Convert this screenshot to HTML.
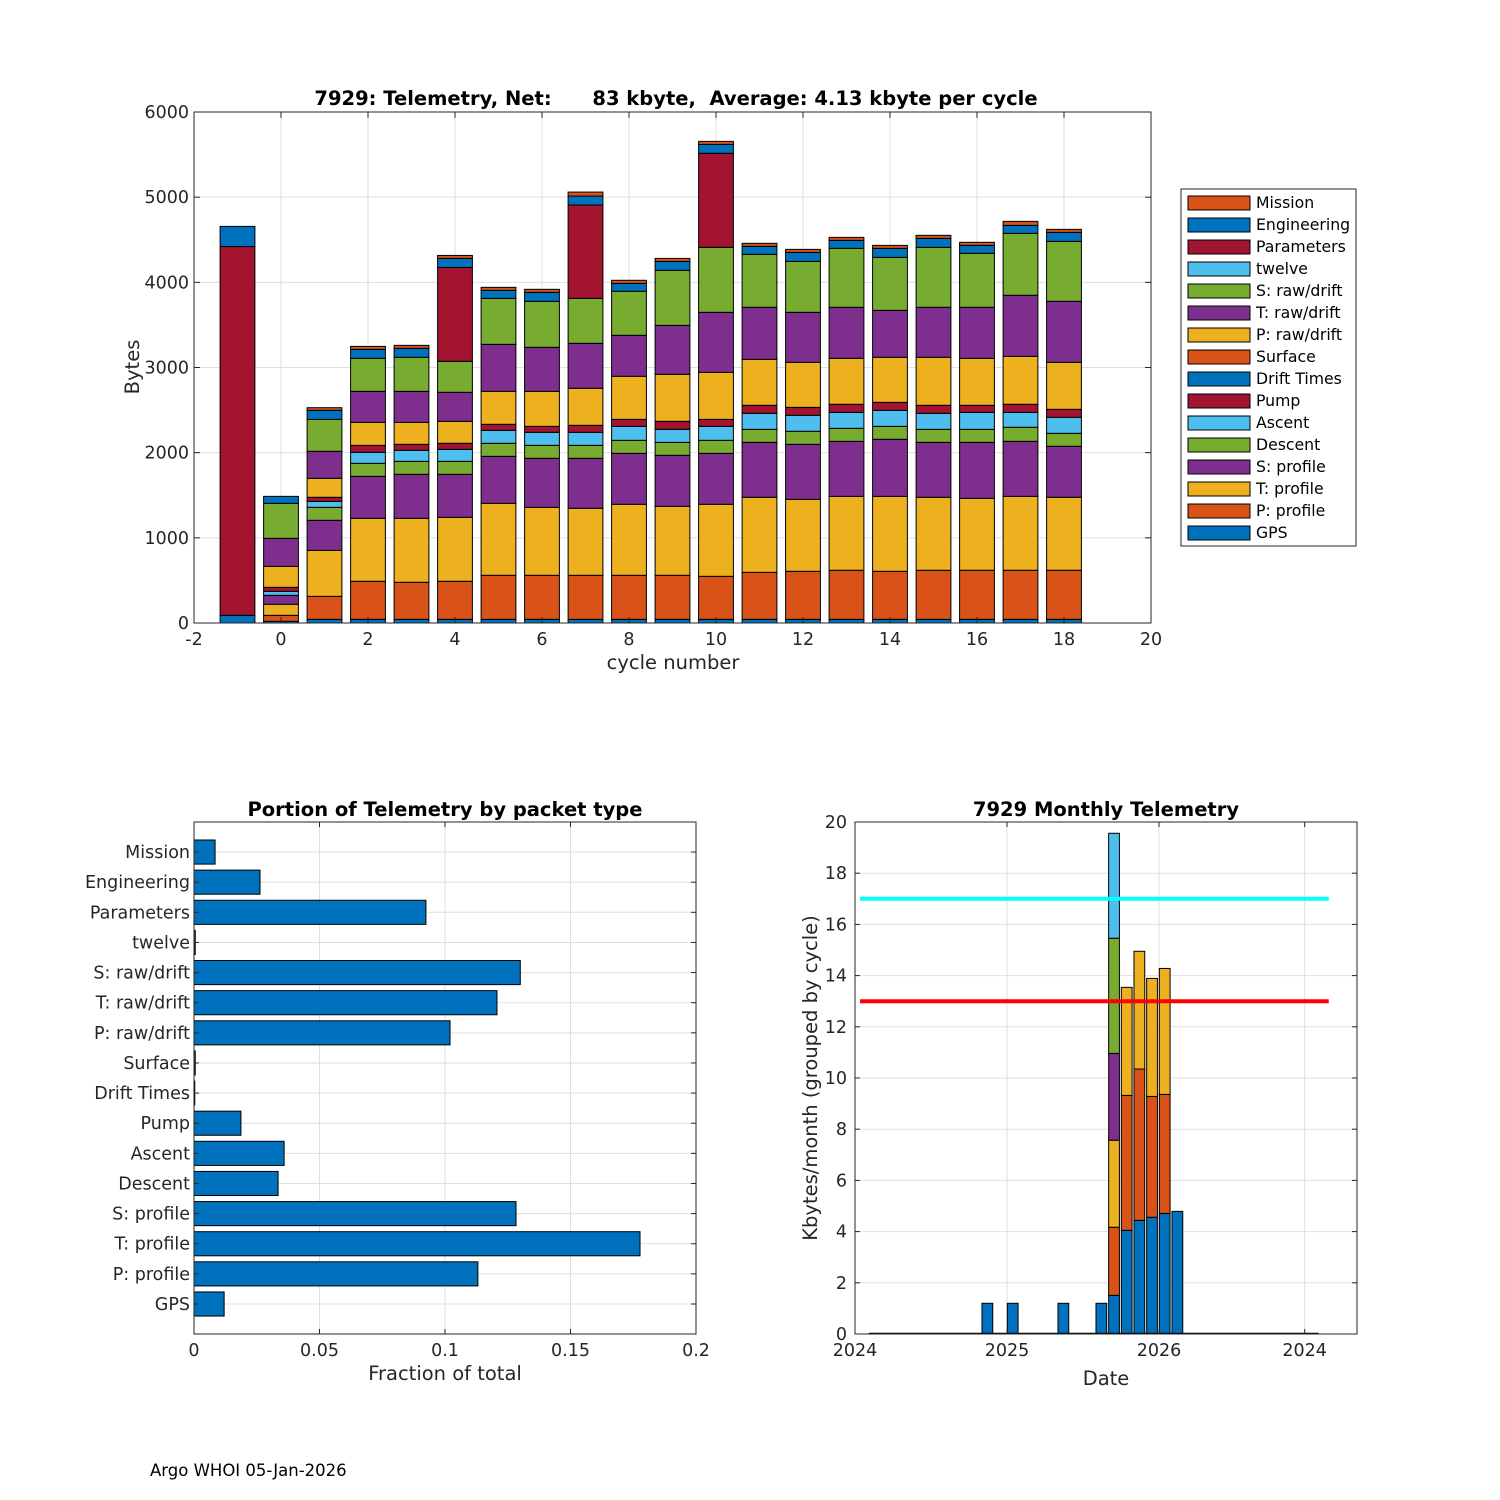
<!DOCTYPE html>
<html><head><meta charset="utf-8">
<style>
html,body{margin:0;padding:0;background:#fff;}
svg{display:block;font-family:"DejaVu Sans","Liberation Sans",sans-serif;}
</style></head>
<body>
<svg id="fig" width="1500" height="1500" viewBox="0 0 1500 1500" xmlns="http://www.w3.org/2000/svg">
<rect x="0" y="0" width="1500" height="1500" fill="#fff"/>
<text x="150" y="1476" font-size="16.5" fill="#000">Argo WHOI 05-Jan-2026</text>
</svg>
<script>
// ---------- Top chart data ----------
var cycles = [-1,0,1,2,3,4,5,6,7,8,9,10,11,12,13,14,15,16,17,18];
var seriesNames = ["GPS","P: profile","T: profile","S: profile","Descent","Ascent","Pump","Drift Times","Surface","P: raw/drift","T: raw/drift","S: raw/drift","twelve","Parameters","Engineering","Mission"];
var gps    = [90,20,43,43,43,43,43,43,43,43,43,43,43,43,43,43,43,43,43,43];
var pProf  = [0,70,270,447,435,447,517,517,517,517,517,505,552,564,576,564,576,576,576,576];
var tProf  = [0,130,540,739,751,751,845,798,787,834,810,846,881,845,868,880,857,845,868,857];
var sProf  = [0,105,353,493,517,505,552,576,587,598,599,598,645,646,646,670,645,657,646,599];
var descent= [0,0,152,153,152,152,153,152,152,153,152,153,153,153,153,152,153,153,165,152];
var ascent = [0,47,70,129,130,141,152,153,153,164,153,164,188,188,187,188,188,199,175,188];
var pump   = [0,47,48,82,70,71,71,70,82,82,94,82,94,93,95,94,94,83,95,94];
var drift  = [0,0,0,0,0,0,0,0,0,0,0,0,0,0,0,0,0,0,0,0];
var surface= [0,0,0,0,0,0,0,0,0,0,0,0,0,0,0,0,0,0,0,0];
var pRaw   = [0,246,223,270,258,258,387,411,435,506,552,552,540,529,540,529,564,552,563,552];
var tRaw   = [0,329,317,364,364,341,552,517,528,481,575,705,611,587,599,551,587,599,717,716];
var sRaw   = [0,411,375,388,400,364,540,540,528,517,646,763,622,598,692,622,704,634,727,704];
var twelve = [0,0,0,0,0,0,0,0,0,0,0,0,0,0,0,0,0,0,0,0];
var params = [4330,0,0,0,0,1102,0,0,1096,0,0,1104,0,0,0,0,0,0,0,0];
var eng    = [237,82,106,105,105,106,94,106,105,93,105,105,94,106,94,106,105,93,94,106];
var mission= [0,0,31,35,35,35,35,35,47,36,35,35,35,35,35,35,36,36,47,35];
var topXTicks = [-2,0,2,4,6,8,10,12,14,16,18,20];
var topYTicks = [0,1000,2000,3000,4000,5000,6000];

// ---------- Bottom-left data ----------
var packetTypes = ["GPS","P: profile","T: profile","S: profile","Descent","Ascent","Pump","Drift Times","Surface","P: raw/drift","T: raw/drift","S: raw/drift","twelve","Parameters","Engineering","Mission"];
var fractions = [0.0120,0.1131,0.1777,0.1283,0.0335,0.0359,0.0187,0.0003,0.0005,0.1020,0.1207,0.1300,0.0005,0.0924,0.0263,0.0084];
var fracTicks = [0,0.05,0.1,0.15,0.2];
var fracTickLabels = ["0","0.05","0.1","0.15","0.2"];

// ---------- Bottom-right data (month index from Jan 2024) ----------
var months = [0,1,2,3,4,5,6,7,8,9,10,11,12,13,14,15,16,17,18,19,20,21,22,23,24,25,26,27,28,29,30,31,32,33,34,35];
var mSeg1 = [0,0,0,0,0,0,0,0,0,0,1.2,0,1.2,0,0,0,1.2,0,0,1.2,1.51,4.05,4.44,4.56,4.71,4.79,0,0,0,0,0,0,0,0,0,0];
var mSeg2 = [0,0,0,0,0,0,0,0,0,0,0,0,0,0,0,0,0,0,0,0,2.66,5.27,5.91,4.72,4.65,0,0,0,0,0,0,0,0,0,0,0];
var mSeg3 = [0,0,0,0,0,0,0,0,0,0,0,0,0,0,0,0,0,0,0,0,3.40,4.22,4.60,4.61,4.92,0,0,0,0,0,0,0,0,0,0,0];
var mSeg4 = [0,0,0,0,0,0,0,0,0,0,0,0,0,0,0,0,0,0,0,0,3.39,0,0,0,0,0,0,0,0,0,0,0,0,0,0,0];
var mSeg5 = [0,0,0,0,0,0,0,0,0,0,0,0,0,0,0,0,0,0,0,0,4.50,0,0,0,0,0,0,0,0,0,0,0,0,0,0,0];
var mSeg6 = [0,0,0,0,0,0,0,0,0,0,0,0,0,0,0,0,0,0,0,0,4.10,0,0,0,0,0,0,0,0,0,0,0,0,0,0,0];
var monthXTicks = [0,12,24,35.5];
var monthXTickLabels = ["2024","2025","2026","2024"];
var monthYTicks = [0,2,4,6,8,10,12,14,16,18,20];
var redLevel = 13;
var cyanLevel = 17;

var NS = "http://www.w3.org/2000/svg";
var svg = document.getElementById("fig");
function mk(tag, attrs, parent){
  var e = document.createElementNS(NS, tag);
  for (var k in attrs) e.setAttribute(k, attrs[k]);
  (parent||svg).appendChild(e);
  return e;
}
function txt(str, attrs, parent){
  var e = mk("text", attrs, parent);
  e.textContent = str;
  return e;
}
var FS = 17.5;
var C = {blue:"#0072BD",orange:"#D95319",yellow:"#EDB120",purple:"#7E2F8E",green:"#77AC30",cyan:"#4DBEEE",red:"#A2142F"};
var seriesColors = [C.blue,C.orange,C.yellow,C.purple,C.green,C.cyan,C.red,C.blue,C.orange,C.yellow,C.purple,C.green,C.cyan,C.red,C.blue,C.orange];
var seriesData = [gps,pProf,tProf,sProf,descent,ascent,pump,drift,surface,pRaw,tRaw,sRaw,twelve,params,eng,mission];

// ================= TOP CHART =================
var T = {l:194,r:1151,t:112,b:623,x0:-2,x1:20,y0:0,y1:6000};
function tx(v){return T.l + (v-T.x0)/(T.x1-T.x0)*(T.r-T.l);}
function ty(v){return T.b - (v-T.y0)/(T.y1-T.y0)*(T.b-T.t);}
var gTop = mk("g",{});


topXTicks.forEach(function(v){
  var l = mk("line",{x1:tx(v),x2:tx(v),y1:T.t,y2:T.b,stroke:"#dfdfdf","stroke-width":1},gTop);
  
  
});
topYTicks.forEach(function(v){
  var l = mk("line",{x1:T.l,x2:T.r,y1:ty(v),y2:ty(v),stroke:"#dfdfdf","stroke-width":1},gTop);
  
  
});
var bw = 0.8*(tx(1)-tx(0));
cycles.forEach(function(c,i){
  var cum = 0;
  seriesData.forEach(function(s,k){
    var v = s[i];
    if (v<=0) return;
    var r = mk("rect",{x:tx(c)-bw/2,y:ty(cum+v),width:bw,height:ty(cum)-ty(cum+v),fill:seriesColors[k],stroke:"#000","stroke-width":1},gTop);
    
    
    cum += v;
  });
});
mk("rect",{x:T.l,y:T.t,width:T.r-T.l,height:T.b-T.t,fill:"none",stroke:"#262626","stroke-width":1},gTop);
topXTicks.forEach(function(v){
  mk("line",{x1:tx(v),x2:tx(v),y1:T.b,y2:T.b-6,stroke:"#262626"},gTop);
  mk("line",{x1:tx(v),x2:tx(v),y1:T.t,y2:T.t+6,stroke:"#262626"},gTop);
  var t = txt(String(v),{x:tx(v),y:T.b+22,"font-size":FS,"text-anchor":"middle",fill:"#262626"},gTop);
  
  
});
topYTicks.forEach(function(v){
  mk("line",{x1:T.l,x2:T.l+6,y1:ty(v),y2:ty(v),stroke:"#262626"},gTop);
  mk("line",{x1:T.r,x2:T.r-6,y1:ty(v),y2:ty(v),stroke:"#262626"},gTop);
  var t = txt(String(v),{x:T.l-5,y:ty(v)+6,"font-size":FS,"text-anchor":"end",fill:"#262626"},gTop);
  
  
});
var tt = txt("7929: Telemetry, Net:      83 kbyte,  Average: 4.13 kbyte per cycle",{x:676,y:105,"font-size":19.5,"font-weight":"bold","text-anchor":"middle",fill:"#000","xml:space":"preserve"},gTop);
tt.style.whiteSpace="pre";


var xl = txt("cycle number",{x:673,y:669,"font-size":19.5,"text-anchor":"middle",fill:"#262626"},gTop);


var yl = txt("Bytes",{x:0,y:0,"font-size":19.5,"text-anchor":"middle",fill:"#262626",transform:"translate(139,367) rotate(-90)"},gTop);



// legend
var gLeg = mk("g",{});


mk("rect",{x:1181,y:189,width:175,height:357,fill:"#fff",stroke:"#262626","stroke-width":1},gLeg);
for (var k=seriesNames.length-1, j=0; k>=0; k--, j++){
  var yy = 203 + j*22;
  var sw = mk("rect",{x:1188,y:yy-7,width:62,height:14,fill:seriesColors[k],stroke:"#000","stroke-width":1},gLeg);
  
  
  var lt = txt(seriesNames[k],{x:1256,y:yy+5,"font-size":15.7,fill:"#000"},gLeg);
  
  
}

// ================= BOTTOM LEFT =================
var B = {l:194,r:696,t:822,b:1334,x0:0,x1:0.2};
var catStep = 30.13, catBase = 1304;
function bx(v){return B.l + (v-B.x0)/(B.x1-B.x0)*(B.r-B.l);}
function by(i){return catBase - i*catStep;}
var gBL = mk("g",{});


fracTicks.forEach(function(v){
  mk("line",{x1:bx(v),x2:bx(v),y1:B.t,y2:B.b,stroke:"#dfdfdf"},gBL);
});
packetTypes.forEach(function(n,i){
  mk("line",{x1:B.l,x2:B.r,y1:by(i),y2:by(i),stroke:"#dfdfdf"},gBL);
});
packetTypes.forEach(function(n,i){
  var h = 0.8*catStep;
  var r = mk("rect",{x:bx(0),y:by(i)-h/2,width:Math.max(bx(fractions[i])-bx(0),0.5),height:h,fill:C.blue,stroke:"#000","stroke-width":1},gBL);
  
  
  var t = txt(n,{x:B.l-4,y:by(i)+6,"font-size":FS,"text-anchor":"end",fill:"#262626"},gBL);
  
  
  mk("line",{x1:B.l,x2:B.l+5,y1:by(i),y2:by(i),stroke:"#262626"},gBL);
  mk("line",{x1:B.r,x2:B.r-5,y1:by(i),y2:by(i),stroke:"#262626"},gBL);
});
mk("rect",{x:B.l,y:B.t,width:B.r-B.l,height:B.b-B.t,fill:"none",stroke:"#262626"},gBL);
fracTicks.forEach(function(v,i){
  mk("line",{x1:bx(v),x2:bx(v),y1:B.b,y2:B.b-5,stroke:"#262626"},gBL);
  mk("line",{x1:bx(v),x2:bx(v),y1:B.t,y2:B.t+5,stroke:"#262626"},gBL);
  var t = txt(fracTickLabels[i],{x:bx(v),y:B.b+22,"font-size":FS,"text-anchor":"middle",fill:"#262626"},gBL);
  
  
});
var t2 = txt("Portion of Telemetry by packet type",{x:445,y:816,"font-size":19.5,"font-weight":"bold","text-anchor":"middle",fill:"#000"},gBL);


var x2 = txt("Fraction of total",{x:445,y:1380,"font-size":19.5,"text-anchor":"middle",fill:"#262626"},gBL);



// ================= BOTTOM RIGHT =================
var M = {l:855,r:1357,t:822,b:1334,y0:0,y1:20};
var pxPerMonth = 152/12;
function mx(m){return M.l + m*pxPerMonth;}
function my(v){return M.b - (v-M.y0)/(M.y1-M.y0)*(M.b-M.t);}
var gBR = mk("g",{});


monthXTicks.forEach(function(v){
  mk("line",{x1:mx(v),x2:mx(v),y1:M.t,y2:M.b,stroke:"#dfdfdf"},gBR);
});
monthYTicks.forEach(function(v){
  mk("line",{x1:M.l,x2:M.r,y1:my(v),y2:my(v),stroke:"#dfdfdf"},gBR);
});
var mSegs = [mSeg1,mSeg2,mSeg3,mSeg4,mSeg5,mSeg6];
var mColors = [C.blue,C.orange,C.yellow,C.purple,C.green,C.cyan];
var mbw = 0.85*pxPerMonth;
months.forEach(function(m,i){
  var cx = mx(m+0.45);
  var cum = 0;
  mSegs.forEach(function(s,k){
    var v = s[i];
    if (v<=0 && k>0) return;
    var r = mk("rect",{x:cx-mbw/2,y:my(cum+v),width:mbw,height:Math.max(my(cum)-my(cum+v),0),fill:mColors[k],stroke:"#000","stroke-width":1},gBR);
    
    
    cum += v;
  });
});
var base = mk("line",{x1:mx(1.1),x2:mx(36.6),y1:M.b-0.5,y2:M.b-0.5,stroke:"#000","stroke-width":1.5},gBR);


var rl = mk("line",{x1:mx(0.4),x2:mx(37.4),y1:my(redLevel),y2:my(redLevel),stroke:"#ff0000","stroke-width":4},gBR);


var cl = mk("line",{x1:mx(0.4),x2:mx(37.4),y1:my(cyanLevel),y2:my(cyanLevel),stroke:"#00ffff","stroke-width":4},gBR);


mk("rect",{x:M.l,y:M.t,width:M.r-M.l,height:M.b-M.t,fill:"none",stroke:"#262626"},gBR);
monthXTicks.forEach(function(v,i){
  mk("line",{x1:mx(v),x2:mx(v),y1:M.b,y2:M.b-5,stroke:"#262626"},gBR);
  mk("line",{x1:mx(v),x2:mx(v),y1:M.t,y2:M.t+5,stroke:"#262626"},gBR);
  var t = txt(monthXTickLabels[i],{x:mx(v),y:M.b+22,"font-size":FS,"text-anchor":"middle",fill:"#262626"},gBR);
  
  
});
monthYTicks.forEach(function(v){
  mk("line",{x1:M.l,x2:M.l+5,y1:my(v),y2:my(v),stroke:"#262626"},gBR);
  mk("line",{x1:M.r,x2:M.r-5,y1:my(v),y2:my(v),stroke:"#262626"},gBR);
  var t = txt(String(v),{x:M.l-8,y:my(v)+6,"font-size":FS,"text-anchor":"end",fill:"#262626"},gBR);
  
  
});
var t3 = txt("7929 Monthly Telemetry",{x:1106,y:816,"font-size":19.5,"font-weight":"bold","text-anchor":"middle",fill:"#000"},gBR);


var x3 = txt("Date",{x:1106,y:1385,"font-size":19.5,"text-anchor":"middle",fill:"#262626"},gBR);


var y3 = txt("Kbytes/month (grouped by cycle)",{x:0,y:0,"font-size":19.5,"text-anchor":"middle",fill:"#262626",transform:"translate(817,1078) rotate(-90)"},gBR);


</script>
</body></html>
